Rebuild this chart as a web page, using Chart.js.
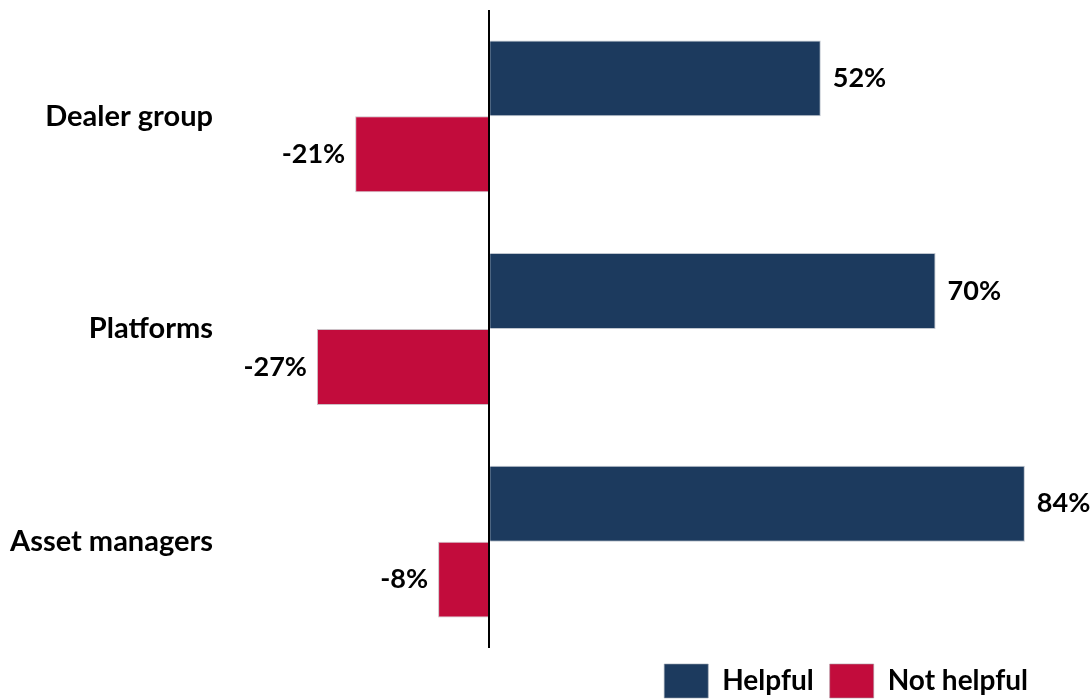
<!DOCTYPE html>
<html>
<head>
<meta charset="utf-8">
<script src="https://cdn.jsdelivr.net/npm/chart.js@4.4.0/dist/chart.umd.min.js"></script>
<style>
  html, body { margin: 0; padding: 0; background: #fff; }
  #wrap { width: 1091px; height: 700px; position: relative; }
</style>
</head>
<body>
<div id="wrap"><canvas id="chart"></canvas></div>
<script>
const categories = ['Dealer group', 'Platforms', 'Asset managers'];
const helpful    = [52, 70, 84];
const notHelpful = [-21, -27, -8];

const NAVY = '#1c3a5e';
const RED  = '#c20c3c';
const FONT = "Lato, 'Open Sans', sans-serif";

// value labels at the end of each bar
const barLabels = {
    id: 'barLabels',
    afterDatasetsDraw(chart) {
        const ctx = chart.ctx;
        ctx.save();
        ctx.font = 'bold 27px ' + FONT;
        ctx.fillStyle = '#000';
        ctx.textBaseline = 'middle';
        chart.data.datasets.forEach((ds, i) => {
            chart.getDatasetMeta(i).data.forEach((bar, j) => {
                const v = ds.data[j];
                if (v >= 0) {
                    ctx.textAlign = 'left';
                    ctx.fillText(v + '%', bar.x + 12, bar.y);
                } else {
                    ctx.textAlign = 'right';
                    ctx.fillText(v + '%', bar.x - 10, bar.y);
                }
            });
        });
        ctx.restore();
    }
};

new Chart(document.getElementById('chart'), {
    type: 'bar',
    data: {
        labels: categories,
        datasets: [
            { label: 'Helpful', data: helpful, backgroundColor: NAVY, borderColor: 'rgba(150,160,175,0.6)', borderWidth: 1 },
            { label: 'Not helpful', data: notHelpful, backgroundColor: RED, borderColor: 'rgba(170,150,160,0.6)', borderWidth: 1 }
        ]
    },
    options: {
        indexAxis: 'y',
        responsive: true,
        maintainAspectRatio: false,
        animation: false,
        datasets: { bar: { categoryPercentage: 0.714, barPercentage: 1 } },
        layout: { padding: { top: 10, right: 47, left: 0, bottom: -8 } },
        plugins: {
            legend: {
                position: 'bottom',
                align: 'end',
                labels: {
                    font: { family: FONT, size: 28, weight: 'bold' },
                    color: '#000',
                    boxWidth: 44,
                    boxHeight: 34,
                    padding: 16
                }
            },
            tooltip: { enabled: false }
        },
        scales: {
            x: {
                min: -40,
                max: 87,
                grid: {
                    color: c => c.tick.value === 0 ? '#000' : 'transparent',
                    lineWidth: 2,
                    drawTicks: false
                },
                border: { display: false },
                ticks: { display: false }
            },
            y: {
                grid: { display: false },
                border: { display: false },
                ticks: {
                    color: '#000',
                    font: { family: FONT, size: 29, weight: 'bold' },
                    padding: 13
                },
                afterFit(scale) {
                    scale.width = 234;
                    scale.paddingTop = 0;
                    scale.paddingBottom = 0;
                }
            }
        }
    },
    plugins: [barLabels]
});
</script>
</body>
</html>
